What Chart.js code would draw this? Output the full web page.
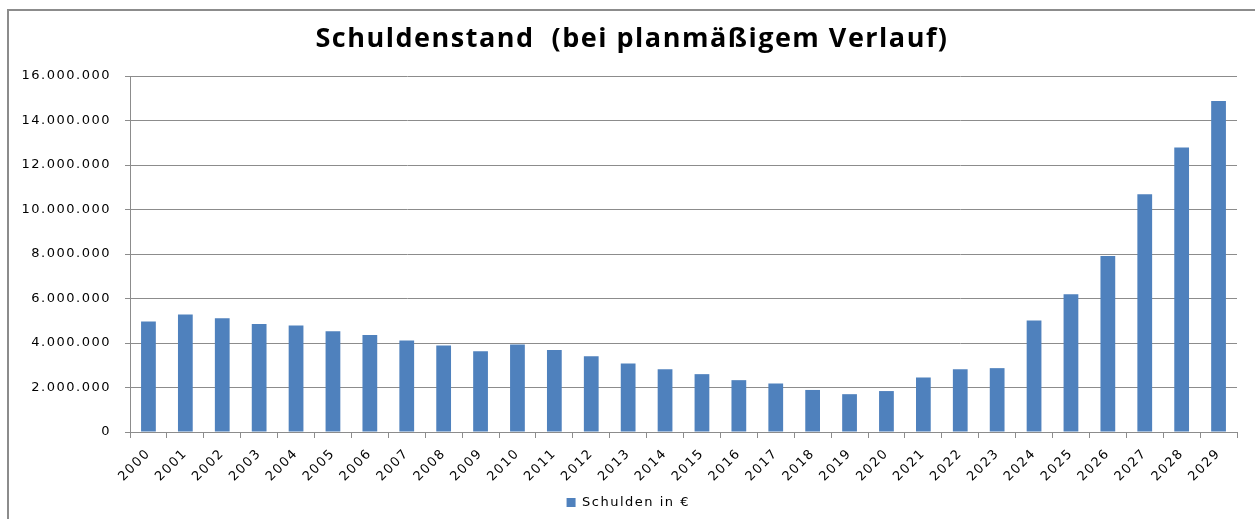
<!DOCTYPE html>
<html>
<head>
<meta charset="utf-8">
<script src="https://cdn.jsdelivr.net/npm/chart.js@4.4.1/dist/chart.umd.min.js"></script>
<style>
  html, body { margin:0; padding:0; background:#fff; overflow:hidden; }
  #wrap { position:relative; width:1255px; height:519px; overflow:hidden; }
  .edge { position:absolute; background:#8c8c8c; pointer-events:none; }
  #edgeTop { left:7px; top:9px; width:1248px; height:2px; }
  #edgeLeft { left:7px; top:9px; width:2px; height:510px; }
  #chart { position:absolute; left:0; top:0; }
</style>
</head>
<body>
<div id="wrap">
  <div class="edge" id="edgeTop"></div>
  <div class="edge" id="edgeLeft"></div>
  <canvas id="chart" width="1255" height="519"></canvas>
</div>
<script>
// Werte
const years = ['2000','2001','2002','2003','2004','2005','2006','2007','2008','2009',
               '2010','2011','2012','2013','2014','2015','2016','2017','2018','2019',
               '2020','2021','2022','2023','2024','2025','2026','2027','2028','2029'];
const schulden = [4970000, 5280000, 5110000, 4850000, 4790000, 4530000, 4360000, 4110000, 3890000, 3630000,
                  3930000, 3680000, 3410000, 3080000, 2820000, 2600000, 2330000, 2180000, 1890000, 1700000,
                  1840000, 2450000, 2820000, 2870000, 5010000, 6190000, 7910000, 10690000, 12790000, 14880000];
const yMax = 16000000;
const yStep = 2000000;

const gridGray = '#8c8c8c';
const tickFont = { family:'DejaVu Sans', size:13 };

function fmtDE(v){
  return String(v).replace(/\B(?=(\d{3})+(?!\d))/g, '.');
}

// Excel-Schrift wirkt in die Breite gezogen -> etwas Zeichenabstand,
// Titel sitzt etwas rechts von der Mitte
const excelLook = {
  id:'excelLook',
  afterLayout(chart){ if(chart.titleBlock) chart.titleBlock.left += 27; },
  beforeDraw(chart){ chart.ctx.letterSpacing = '1.5px'; }
};

const ctx = document.getElementById('chart').getContext('2d');
new Chart(ctx, {
  type:'bar',
  data:{
    labels: years,
    datasets:[{
      label:'Schulden in €',
      data: schulden,
      backgroundColor:'#4F81BD',
      borderWidth:0,
      barPercentage:0.4,
      categoryPercentage:1.0
    }]
  },
  options:{
    responsive:false,
    animation:false,
    layout:{ padding:{ left:0, right:18, top:0, bottom:0 } },
    plugins:{
      title:{
        display:true,
        text:'Schuldenstand  (bei planmäßigem Verlauf)',
        color:'#000',
        font:{ family:'Open Sans', size:27, weight:'bold', lineHeight:1.2 },
        padding:{ top:23.5, bottom:20.1 }
      },
      legend:{
        position:'bottom',
        labels:{
          color:'#000',
          boxWidth:9, boxHeight:9,
          font:{ family:'DejaVu Sans', size:13 },
          padding:10
        }
      },
      tooltip:{ enabled:false }
    },
    scales:{
      x:{
        grid:{ offset:true, drawOnChartArea:false, color:gridGray, tickLength:6 },
        border:{ color:gridGray, width:1 },
        ticks:{ color:'#000', font:tickFont, minRotation:45, maxRotation:45, autoSkip:false, padding:8 },
        afterFit(scale){ scale.height = 519 - 432 - scale.chart.legend.height; }
      },
      y:{
        min:0, max:yMax,
        grid:{ color:gridGray, tickLength:5 },
        border:{ color:gridGray, width:1 },
        ticks:{ stepSize:yStep, color:'#000', font:tickFont, padding:14, callback:v => fmtDE(v) },
        afterFit(scale){ scale.width = 130; }
      }
    }
  },
  plugins:[excelLook]
});
</script>
</body>
</html>
